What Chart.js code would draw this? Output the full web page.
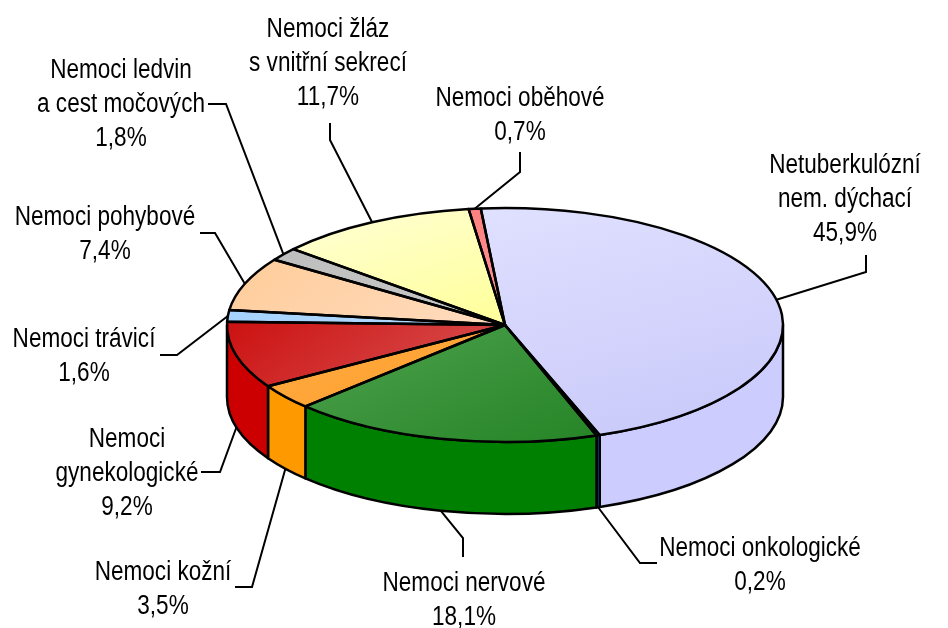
<!DOCTYPE html>
<html>
<head>
<meta charset="utf-8">
<script src="https://cdn.jsdelivr.net/npm/chart.js@4.4.0/dist/chart.umd.min.js"></script>
<style>
  html, body { margin: 0; padding: 0; background: #fff; }
  #wrap { width: 948px; height: 628px; }
</style>
</head>
<body>
<div id="wrap"><canvas id="chart" width="948" height="628"></canvas></div>
<script>
const categories = [
  'Netuberkulózní\nnem. dýchací',
  'Nemoci onkologické',
  'Nemoci nervové',
  'Nemoci kožní',
  'Nemoci\ngynekologické',
  'Nemoci trávicí',
  'Nemoci pohybové',
  'Nemoci ledvin\na cest močových',
  'Nemoci žláz\ns vnitřní sekrecí',
  'Nemoci oběhové'
];
const shares = [45.9, 0.2, 18.1, 3.5, 9.2, 1.6, 7.4, 1.8, 11.7, 0.7];

// top face: [top-left colour, bottom-right colour], wall colour
const topColors = [
  ['#E0E0FF', '#C8C8FA'],
  ['#0066CC', '#0066CC'],
  ['#4EA24E', '#268426'],
  ['#FFAA40', '#FFA030'],
  ['#CC1111', '#D95555'],
  ['#A6D2FF', '#B8DCFF'],
  ['#FFCC99', '#FFDCC0'],
  ['#BEBEBE', '#C8C8C8'],
  ['#FFFFD6', '#FFFF99'],
  ['#FF8080', '#FF9999']
];
const wallColors = ['#CCCCFF', '#0066CC', '#008000', '#FF9900', '#CC0000',
  '#99CCFF', '#FFCC99', '#C0C0C0', '#FFFF99', '#FF8080'];

// label layout: text centre x, first baseline, bends of the leader line
const labelPos = [
  { x: 845, y: 173, bend: [[866, 272], [866, 255]] },
  { x: 760, y: 556, bend: [[640, 563], [657, 563]], wall: true },
  { x: 464, y: 591, bend: [[463, 538], [463, 557]], wall: true },
  { x: 163, y: 580, bend: [[252, 587], [235, 587]], wall: true },
  { x: 127, y: 447, bend: [[220, 472], [201, 472]], wall: true },
  { x: 84, y: 347, bend: [[177, 355], [160, 355]] },
  { x: 105, y: 225, bend: [[215, 233], [200, 233]] },
  { x: 121, y: 78, bend: [[226, 104], [208, 104]] },
  { x: 328, y: 37, bend: [[330, 140], [330, 123]] },
  { x: 520, y: 106, bend: [[520, 172], [520, 152]] }
];

const TILT = 117 / 278;   // vertical squash of the pie
const DEPTH = 72;         // wall height
const LINE_H = 34;
const FONT = '27px "Liberation Sans", Arial, sans-serif';
const NARROW = 0.835;     // Arial Narrow look

function frontParts(s, e) {
  const parts = [];
  for (const off of [-2 * Math.PI, 0, 2 * Math.PI]) {
    const a = Math.max(s, off), b = Math.min(e, off + Math.PI);
    if (b > a) parts.push([a, b]);
  }
  return parts;
}

const pie3d = {
  id: 'pie3d',
  beforeDatasetsDraw(chart) {
    const ctx = chart.ctx;
    const arcs = chart.getDatasetMeta(0).data;
    const first = arcs[0];
    const cx = first.x, cy = first.y, R = first.outerRadius;

    // walls
    ctx.save();
    ctx.lineWidth = 2.5;
    ctx.lineJoin = 'round';
    ctx.strokeStyle = '#000';
    arcs.forEach((arc, i) => {
      frontParts(arc.startAngle, arc.endAngle).forEach(([a, b]) => {
        ctx.beginPath();
        ctx.ellipse(cx, cy, R, R * TILT, 0, a, b);
        ctx.ellipse(cx, cy + DEPTH, R, R * TILT, 0, b, a, true);
        ctx.closePath();
        ctx.fillStyle = wallColors[i];
        ctx.fill();
        ctx.stroke();
      });
    });
    ctx.restore();

    // gradients for the top faces
    arcs.forEach((arc, i) => {
      let x0 = cx, y0 = cy, x1 = cx, y1 = cy;
      for (let k = 0; k <= 24; k++) {
        const t = arc.startAngle + (arc.endAngle - arc.startAngle) * k / 24;
        const px = cx + R * Math.cos(t), py = cy + R * Math.sin(t);
        x0 = Math.min(x0, px); y0 = Math.min(y0, py);
        x1 = Math.max(x1, px); y1 = Math.max(y1, py);
      }
      const g = ctx.createLinearGradient(x0, y0, x1, y1);
      g.addColorStop(0, topColors[i][0]);
      g.addColorStop(1, topColors[i][1]);
      try { arc.options.backgroundColor = g; } catch (err) { }
    });

    ctx.save();
    ctx.translate(cx, cy);
    ctx.scale(1, TILT);
    ctx.translate(-cx, -cy);
  },
  afterDatasetsDraw(chart) {
    const ctx = chart.ctx;
    ctx.restore();
    const arcs = chart.getDatasetMeta(0).data;
    const first = arcs[0];
    const cx = first.x, cy = first.y, R = first.outerRadius;

    // outlines of the top face
    ctx.save();
    ctx.lineWidth = 2.5;
    ctx.lineJoin = 'round';
    ctx.strokeStyle = '#000';
    arcs.forEach((arc) => {
      ctx.beginPath();
      ctx.moveTo(cx, cy);
      ctx.ellipse(cx, cy, R, R * TILT, 0, arc.startAngle, arc.endAngle);
      ctx.closePath();
      ctx.stroke();
    });

    // leader lines and labels
    ctx.lineWidth = 2;
    ctx.lineJoin = 'miter';
    ctx.font = FONT;
    ctx.textAlign = 'center';
    ctx.textBaseline = 'alphabetic';
    ctx.fillStyle = '#000';
    arcs.forEach((arc, i) => {
      const pos = labelPos[i];
      const mid = (arc.startAngle + arc.endAngle) / 2;
      const sx = cx + R * Math.cos(mid);
      const sy = cy + R * TILT * Math.sin(mid) + (pos.wall ? DEPTH : 0);
      ctx.beginPath();
      ctx.moveTo(sx, sy);
      pos.bend.forEach(([bx, by]) => ctx.lineTo(bx, by));
      ctx.stroke();

      const lines = categories[i].split('\n');
      lines.push(shares[i].toFixed(1).replace('.', ',') + '%');
      lines.forEach((t, k) => {
        ctx.save();
        ctx.translate(pos.x, pos.y + k * LINE_H);
        ctx.scale(NARROW, 1);
        ctx.fillText(t, 0, 0);
        ctx.restore();
      });
    });
    ctx.restore();
  }
};

new Chart(document.getElementById('chart'), {
  type: 'pie',
  data: {
    labels: categories,
    datasets: [{
      data: shares,
      backgroundColor: topColors.map(c => c[0]),
      borderWidth: 0,
      hoverOffset: 0
    }]
  },
  options: {
    responsive: false,
    devicePixelRatio: 1,
    animation: false,
    events: [],
    rotation: -5,
    radius: 278,
    layout: { padding: { left: 227, right: 165, top: 47, bottom: 25 } },
    plugins: {
      legend: { display: false },
      tooltip: { enabled: false }
    }
  },
  plugins: [pie3d]
});
</script>
</body>
</html>
